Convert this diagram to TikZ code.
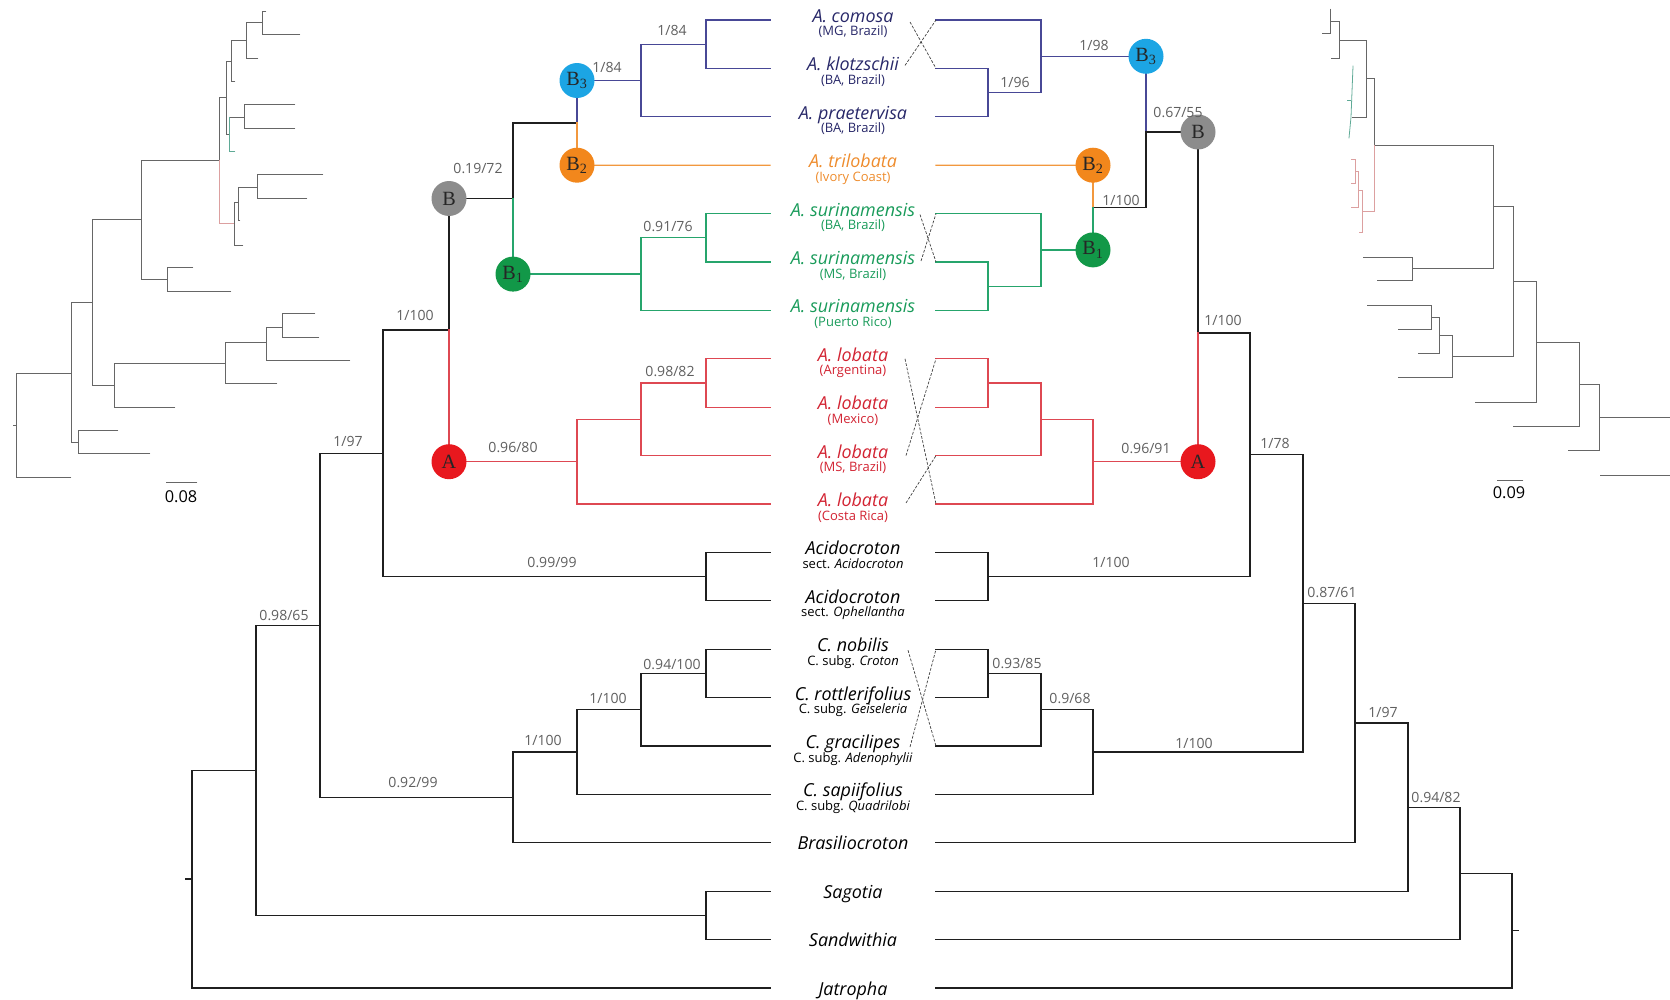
\documentclass[tikz,border=0pt]{standalone}
\usepackage{fontspec}
\setmainfont{Open Sans}
\newfontfamily\circfont{Liberation Serif}
\usetikzlibrary{calc}

\definecolor{cblue}{RGB}{72,72,150}
\definecolor{tblue}{RGB}{40,40,105}
\definecolor{corange}{RGB}{242,152,62}
\definecolor{torange}{RGB}{238,140,45}
\definecolor{cgreen}{RGB}{38,165,108}
\definecolor{tgreen}{RGB}{25,155,90}
\definecolor{cred}{RGB}{222,72,82}
\definecolor{tred}{RGB}{210,35,50}
\definecolor{nodegray}{RGB}{140,140,140}
\definecolor{nodecyan}{RGB}{28,165,228}
\definecolor{nodeorange}{RGB}{242,135,28}
\definecolor{nodegreen}{RGB}{18,152,72}
\definecolor{nodered}{RGB}{232,24,30}
\definecolor{suppgray}{RGB}{95,95,95}
\definecolor{phygreen}{RGB}{95,170,150}
\definecolor{phyred}{RGB}{220,160,160}

\begin{document}
\begin{tikzpicture}[x=0.02cm,y=-0.02cm,line cap=rect,
    br/.style={line width=0.75pt,black!88},
    phy/.style={line width=0.45pt,black!60},
    swap/.style={line width=0.4pt,black!75,line cap=butt,dash pattern=on 1.6pt off 0.9pt},
    supp/.style={font=\fontsize{8}{9}\selectfont,text=suppgray,inner sep=0pt},
    taxon/.style={font=\fontsize{10.2}{12}\selectfont\itshape,anchor=base,inner sep=0pt},
    locality/.style={font=\fontsize{7.4}{8}\selectfont,anchor=base,inner sep=0pt},
    clade/.style={circle,minimum size=0.7cm,inner sep=0pt,text=black!85,
        font=\circfont\fontsize{11.5}{12}\selectfont}]
\useasboundingbox (0,0) rectangle (1670,1000);

% tips of both trees
\foreach \i in {0,...,20}{
  \coordinate (L\i) at (770,20+48.4*\i);
  \coordinate (R\i) at (936,20+48.4*\i);
}

% taxon names
\foreach \i/\nm/\sb/\cl in {0/{A. comosa}/{(MG, Brazil)}/tblue,
    1/{A. klotzschii}/{(BA, Brazil)}/tblue,
    2/{A. praetervisa}/{(BA, Brazil)}/tblue,
    3/{A. trilobata}/{(Ivory Coast)}/torange,
    4/{A. surinamensis}/{(BA, Brazil)}/tgreen,
    5/{A. surinamensis}/{(MS, Brazil)}/tgreen,
    6/{A. surinamensis}/{(Puerto Rico)}/tgreen,
    7/{A. lobata}/{(Argentina)}/tred,
    8/{A. lobata}/{(Mexico)}/tred,
    9/{A. lobata}/{(MS, Brazil)}/tred,
    10/{A. lobata}/{(Costa Rica)}/tred,
    11/Acidocroton/{sect. \textit{Acidocroton}}/black,
    12/Acidocroton/{sect. \textit{Ophellantha}}/black,
    13/{C. nobilis}/{C. subg. \textit{Croton}}/black,
    14/{C. rottlerifolius}/{C. subg. \textit{Geiseleria}}/black,
    15/{C. gracilipes}/{C. subg. \textit{Adenophylii}}/black,
    16/{C. sapiifolius}/{C. subg. \textit{Quadrilobi}}/black}{
  \node[taxon,text=\cl] (n\i) at ($(L\i)!0.5!(R\i)+(0,2.5)$) {\nm};
  \node[locality,text=\cl] (s\i) at ($(L\i)!0.5!(R\i)+(0,16)$) {\sb};
}
\foreach \i/\nm in {17/Brasiliocroton,18/Sagotia,19/Sandwithia,20/Jatropha}
  \node[taxon] (n\i) at ($(L\i)!0.5!(R\i)+(0,7)$) {\nm};

% left tree
\coordinate (lr) at (192,879);
\coordinate (l65) at (256,770.5);
\coordinate (l97) at (320,625.6);
\coordinate (lac0) at (383,453.8);
\coordinate (lab) at (449,330.1);
\coordinate (lB) at (449,198.5);
\coordinate (lb0) at (513,198.5);
\coordinate (lb23) at (577,122.9);
\coordinate (lB3) at (577,80.5);
\coordinate (lB2) at (577,165.2);
\coordinate (lB1) at (513,274.1);
\coordinate (lc2) at (641,80.5);
\coordinate (lc1) at (706,44.2);
\coordinate (ls1) at (641,274.1);
\coordinate (ls2) at (706,237.8);
\coordinate (lA) at (449,461.7);
\coordinate (la1) at (577,461.7);
\coordinate (la2) at (641,419.3);
\coordinate (la3) at (706,383);
\coordinate (lac) at (706,576.6);
\coordinate (lcr0) at (513,797.4);
\coordinate (lcr1) at (577,752);
\coordinate (lcr2) at (641,709.7);
\coordinate (lcr3) at (706,673.4);
\coordinate (lsg) at (706,915.4);

\draw[br] (lr) -- ++(-6,0);
\draw[br] (lr) |- (l65); \draw[br] (lr) |- (L20);
\draw[br] (l65) |- (l97); \draw[br] (l65) |- (lsg);
\draw[br] (lsg) |- (L18); \draw[br] (lsg) |- (L19);
\draw[br] (l97) |- (lac0); \draw[br] (l97) |- (lcr0);
\draw[br] (lcr0) |- (lcr1); \draw[br] (lcr0) |- (L17);
\draw[br] (lcr1) |- (lcr2); \draw[br] (lcr1) |- (L16);
\draw[br] (lcr2) |- (lcr3); \draw[br] (lcr2) |- (L15);
\draw[br] (lcr3) |- (L13); \draw[br] (lcr3) |- (L14);
\draw[br] (lac0) |- (lab); \draw[br] (lac0) |- (lac);
\draw[br] (lac) |- (L11); \draw[br] (lac) |- (L12);
\draw[br] (lab) -- (lB); \draw[br,cred] (lab) -- (lA);
\draw[br] (lB) -- (lb0);
\draw[br] (lb0) |- (lb23); \draw[br,cgreen] (lb0) -- (lB1);
\draw[br,cblue] (lb23) -- (lB3); \draw[br,corange] (lb23) -- (lB2);
\draw[br,cblue] (lB3) -- (lc2);
\draw[br,cblue] (lc2) |- (lc1); \draw[br,cblue] (lc2) |- (L2);
\draw[br,cblue] (lc1) |- (L0); \draw[br,cblue] (lc1) |- (L1);
\draw[br,corange] (lB2) -- (L3);
\draw[br,cgreen] (lB1) -- (ls1);
\draw[br,cgreen] (ls1) |- (ls2); \draw[br,cgreen] (ls1) |- (L6);
\draw[br,cgreen] (ls2) |- (L4); \draw[br,cgreen] (ls2) |- (L5);
\draw[br,cred] (lA) -- (la1);
\draw[br,cred] (la1) |- (la2); \draw[br,cred] (la1) |- (L10);
\draw[br,cred] (la2) |- (la3); \draw[br,cred] (la2) |- (L9);
\draw[br,cred] (la3) |- (L7); \draw[br,cred] (la3) |- (L8);

% right tree
\coordinate (rr) at (1512,930.7);
\coordinate (r94) at (1460,873.4);
\coordinate (r82) at (1408,807.2);
\coordinate (r97) at (1355,723.1);
\coordinate (r61) at (1303,603.4);
\coordinate (r78) at (1250,454.8);
\coordinate (rab) at (1198,333);
\coordinate (rB) at (1198,132);
\coordinate (rbb) at (1146,132);
\coordinate (rB3) at (1146,56.3);
\coordinate (rc2) at (1041,56.3);
\coordinate (rc1) at (988,92.6);
\coordinate (r12) at (1093,207.6);
\coordinate (rB2) at (1093,165.2);
\coordinate (rB1) at (1093,249.9);
\coordinate (rs1) at (1041,249.9);
\coordinate (rs2) at (988,286.2);
\coordinate (rA) at (1198,461.7);
\coordinate (ra1) at (1093,461.7);
\coordinate (ra2) at (1041,419.3);
\coordinate (ra3) at (988,383);
\coordinate (rac) at (988,576.6);
\coordinate (rcr3) at (1093,752);
\coordinate (rcr2) at (1041,709.7);
\coordinate (rcr1) at (988,673.4);

\draw[br] (rr) -- ++(6,0);
\draw[br] (rr) |- (r94); \draw[br] (rr) |- (R20);
\draw[br] (r94) |- (r82); \draw[br] (r94) |- (R19);
\draw[br] (r82) |- (r97); \draw[br] (r82) |- (R18);
\draw[br] (r97) |- (r61); \draw[br] (r97) |- (R17);
\draw[br] (r61) |- (r78); \draw[br] (r61) |- (rcr3);
\draw[br] (rcr3) |- (rcr2); \draw[br] (rcr3) |- (R16);
\draw[br] (rcr2) |- (rcr1); \draw[br] (rcr2) |- (R15);
\draw[br] (rcr1) |- (R13); \draw[br] (rcr1) |- (R14);
\draw[br] (r78) |- (rab); \draw[br] (r78) |- (rac);
\draw[br] (rac) |- (R11); \draw[br] (rac) |- (R12);
\draw[br] (rab) -- (rB); \draw[br,cred] (rab) -- (rA);
\draw[br] (rB) -- (rbb);
\draw[br,cblue] (rbb) -- (rB3); \draw[br] (rbb) |- (r12);
\draw[br,cblue] (rB3) -- (rc2);
\draw[br,cblue] (rc2) |- (R0); \draw[br,cblue] (rc2) |- (rc1);
\draw[br,cblue] (rc1) |- (R1); \draw[br,cblue] (rc1) |- (R2);
\draw[br,corange] (r12) -- (rB2); \draw[br,cgreen] (r12) -- (rB1);
\draw[br,corange] (rB2) -- (R3);
\draw[br,cgreen] (rB1) -- (rs1);
\draw[br,cgreen] (rs1) |- (R4); \draw[br,cgreen] (rs1) |- (rs2);
\draw[br,cgreen] (rs2) |- (R5); \draw[br,cgreen] (rs2) |- (R6);
\draw[br,cred] (rA) -- (ra1);
\draw[br,cred] (ra1) |- (ra2); \draw[br,cred] (ra1) |- (R10);
\draw[br,cred] (ra2) |- (ra3); \draw[br,cred] (ra2) |- (R9);
\draw[br,cred] (ra3) |- (R7); \draw[br,cred] (ra3) |- (R8);

% crossing links between the trees
\draw[swap] ($(R0)+(-26,2)$) -- (R1);
\draw[swap] ($(R1)+(-31,-3)$) -- (R0);
\draw[swap] ($(R4)+(-16,1)$) -- (R5);
\draw[swap] ($(R5)+(-15,-1)$) -- (R4);
\draw[swap] ($(R7)+(-31,0)$) -- (R10);
\draw[swap] ($(R9)+(-30,0)$) -- (R7);
\draw[swap] ($(R10)+(-30,-1)$) -- (R9);
\draw[swap] ($(R13)+(-28,1)$) -- (R15);
\draw[swap] ($(R15)+(-26,1)$) -- (R13);

% clade circles
\node[clade,fill=nodegray] (clB) at (lB) {B};
\node[clade,fill=nodecyan] (clB3) at (lB3) {B\textsubscript{3}};
\node[clade,fill=nodeorange] (clB2) at (lB2) {B\textsubscript{2}};
\node[clade,fill=nodegreen] (clB1) at (lB1) {B\textsubscript{1}};
\node[clade,fill=nodered] (clA) at (lA) {A};
\node[clade,fill=nodegray] (crB) at (rB) {B};
\node[clade,fill=nodecyan] (crB3) at (rB3) {B\textsubscript{3}};
\node[clade,fill=nodeorange] (crB2) at (rB2) {B\textsubscript{2}};
\node[clade,fill=nodegreen] (crB1) at (rB1) {B\textsubscript{1}};
\node[clade,fill=nodered] (crA) at (rA) {A};

% support values, left
\node[supp] (sl1) at (672,30) {1/84};
\node[supp] (sl2) at (607,67) {1/84};
\node[supp] (sl3) at (478,169) {0.19/72};
\node[supp] (sl4) at (668,227) {0.91/76};
\node[supp] (sl5) at (415,315) {1/100};
\node[supp] (sl6) at (348,441) {1/97};
\node[supp] (sl7) at (513,448) {0.96/80};
\node[supp] (sl8) at (670,372) {0.98/82};
\node[supp] (sl9) at (552,562) {0.99/99};
\node[supp] (sl10) at (284,615) {0.98/65};
\node[supp] (sl11) at (413,782) {0.92/99};
\node[supp] (sl12) at (543,740) {1/100};
\node[supp] (sl13) at (608,698) {1/100};
\node[supp] (sl14) at (672,664) {0.94/100};
% support values, right
\node[supp] (sr1) at (1015,82) {1/96};
\node[supp] (sr2) at (1094,45) {1/98};
\node[supp] (sr3) at (1178,113) {0.67/55};
\node[supp] (sr4) at (1121,200) {1/100};
\node[supp] (sr5) at (1223,320) {1/100};
\node[supp] (sr6) at (1146,449) {0.96/91};
\node[supp] (sr7) at (1275,443) {1/78};
\node[supp] (sr8) at (1111,562) {1/100};
\node[supp] (sr9) at (1332,593) {0.87/61};
\node[supp] (sr10) at (1017,663) {0.93/85};
\node[supp] (sr11) at (1070,698) {0.9/68};
\node[supp] (sr12) at (1194,743) {1/100};
\node[supp] (sr13) at (1383,712) {1/97};
\node[supp] (sr14) at (1436,797) {0.94/82};

% left phylogram
\draw[phy] (13,425) -- (16,425);
\draw[phy] (71,373) -- (16,373) -- (16,477) -- (71,477);
\draw[phy] (92,302) -- (71,302) -- (71,442) -- (78,442);
\draw[phy] (118,430) -- (78,430) -- (78,453) -- (150,453);
\draw[phy] (141,219) -- (92,219) -- (92,385) -- (114,385);
\draw[phy] (225,363) -- (114,363) -- (114,407) -- (175,407);
\draw[phy] (266,342) -- (225,342) -- (225,383) -- (277,383);
\draw[phy] (282,327) -- (266,327) -- (266,360) -- (350,360);
\draw[phy] (315,313) -- (282,313) -- (282,337) -- (319,337);
\draw[phy] (219,160) -- (141,160) -- (141,279) -- (167,279);
\draw[phy] (193,267) -- (167,267) -- (167,291) -- (231,291);
\draw[phy] (226,97) -- (219,97) -- (219,160);
\draw[phy,phyred] (219,160) -- (219,223) -- (234,223);
\draw[phy] (231,61) -- (226,61) -- (226,134) -- (229,134);
\draw[phy] (246,40) -- (231,40) -- (231,81) -- (235,81);
\draw[phy] (262,22) -- (246,22) -- (246,58) -- (258,58);
\draw[phy] (266,11) -- (262,11) -- (262,34) -- (300,34);
\draw[phy] (244,117) -- (229,117);
\draw[phy,phygreen] (229,117) -- (229,151) -- (235,151);
\draw[phy] (295,104) -- (244,104) -- (244,128) -- (295,128);
\draw[phy] (238,202) -- (234,202) -- (234,245) -- (243,245);
\draw[phy] (257,187) -- (238,187) -- (238,220) -- (240,220);
\draw[phy] (323,174) -- (257,174) -- (257,198) -- (307,198);
\draw[phy] (166,482) -- (197,482);
\node[font=\fontsize{9.3}{10}\selectfont] (bar1) at (181,497) {0.08};

% right phylogram
\draw[phy] (1599,417) -- (1670,417);
\draw[phy] (1600,475) -- (1670,475);
\draw[phy] (1579,384) -- (1599,384) -- (1599,450) -- (1568,450);
\draw[phy] (1536,342) -- (1579,342) -- (1579,426) -- (1513,426);
\draw[phy] (1513,281) -- (1536,281) -- (1536,402) -- (1475,402);
\draw[phy] (1493,206) -- (1513,206) -- (1513,356) -- (1452,356);
\draw[phy] (1439,335) -- (1452,335) -- (1452,377) -- (1398,377);
\draw[phy] (1431,317) -- (1439,317) -- (1439,353) -- (1418,353);
\draw[phy] (1367,305) -- (1431,305) -- (1431,329) -- (1398,329);
\draw[phy] (1374,145) -- (1493,145) -- (1493,268) -- (1412,268);
\draw[phy] (1363,257) -- (1412,257) -- (1412,280) -- (1377,280);
\draw[phy] (1366,78) -- (1374,78) -- (1374,145);
\draw[phy,phyred] (1374,145) -- (1374,211) -- (1362,211);
\draw[phy,phyred] (1358,190) -- (1362,190) -- (1362,232) -- (1359,232);
\draw[phy,phyred] (1355,171) -- (1358,171) -- (1358,207) -- (1351,207);
\draw[phy,phyred] (1351,159) -- (1355,159) -- (1355,183) -- (1351,183);
\draw[phy] (1339,40) -- (1366,40) -- (1366,117) -- (1352,117);
\draw[phy,phygreen] (1353,66) -- (1351,117) -- (1349,138);
\draw[phy,phygreen] (1351,100) -- (1347,100);
\draw[phy] (1330,21) -- (1339,21) -- (1339,58) -- (1331,58);
\draw[phy] (1330,9) -- (1330,33) -- (1322,33);
\draw[phy] (1497,480) -- (1523,480);
\node[font=\fontsize{9.3}{10}\selectfont] (bar2) at (1509,493) {0.09};
\end{tikzpicture}
\end{document}
